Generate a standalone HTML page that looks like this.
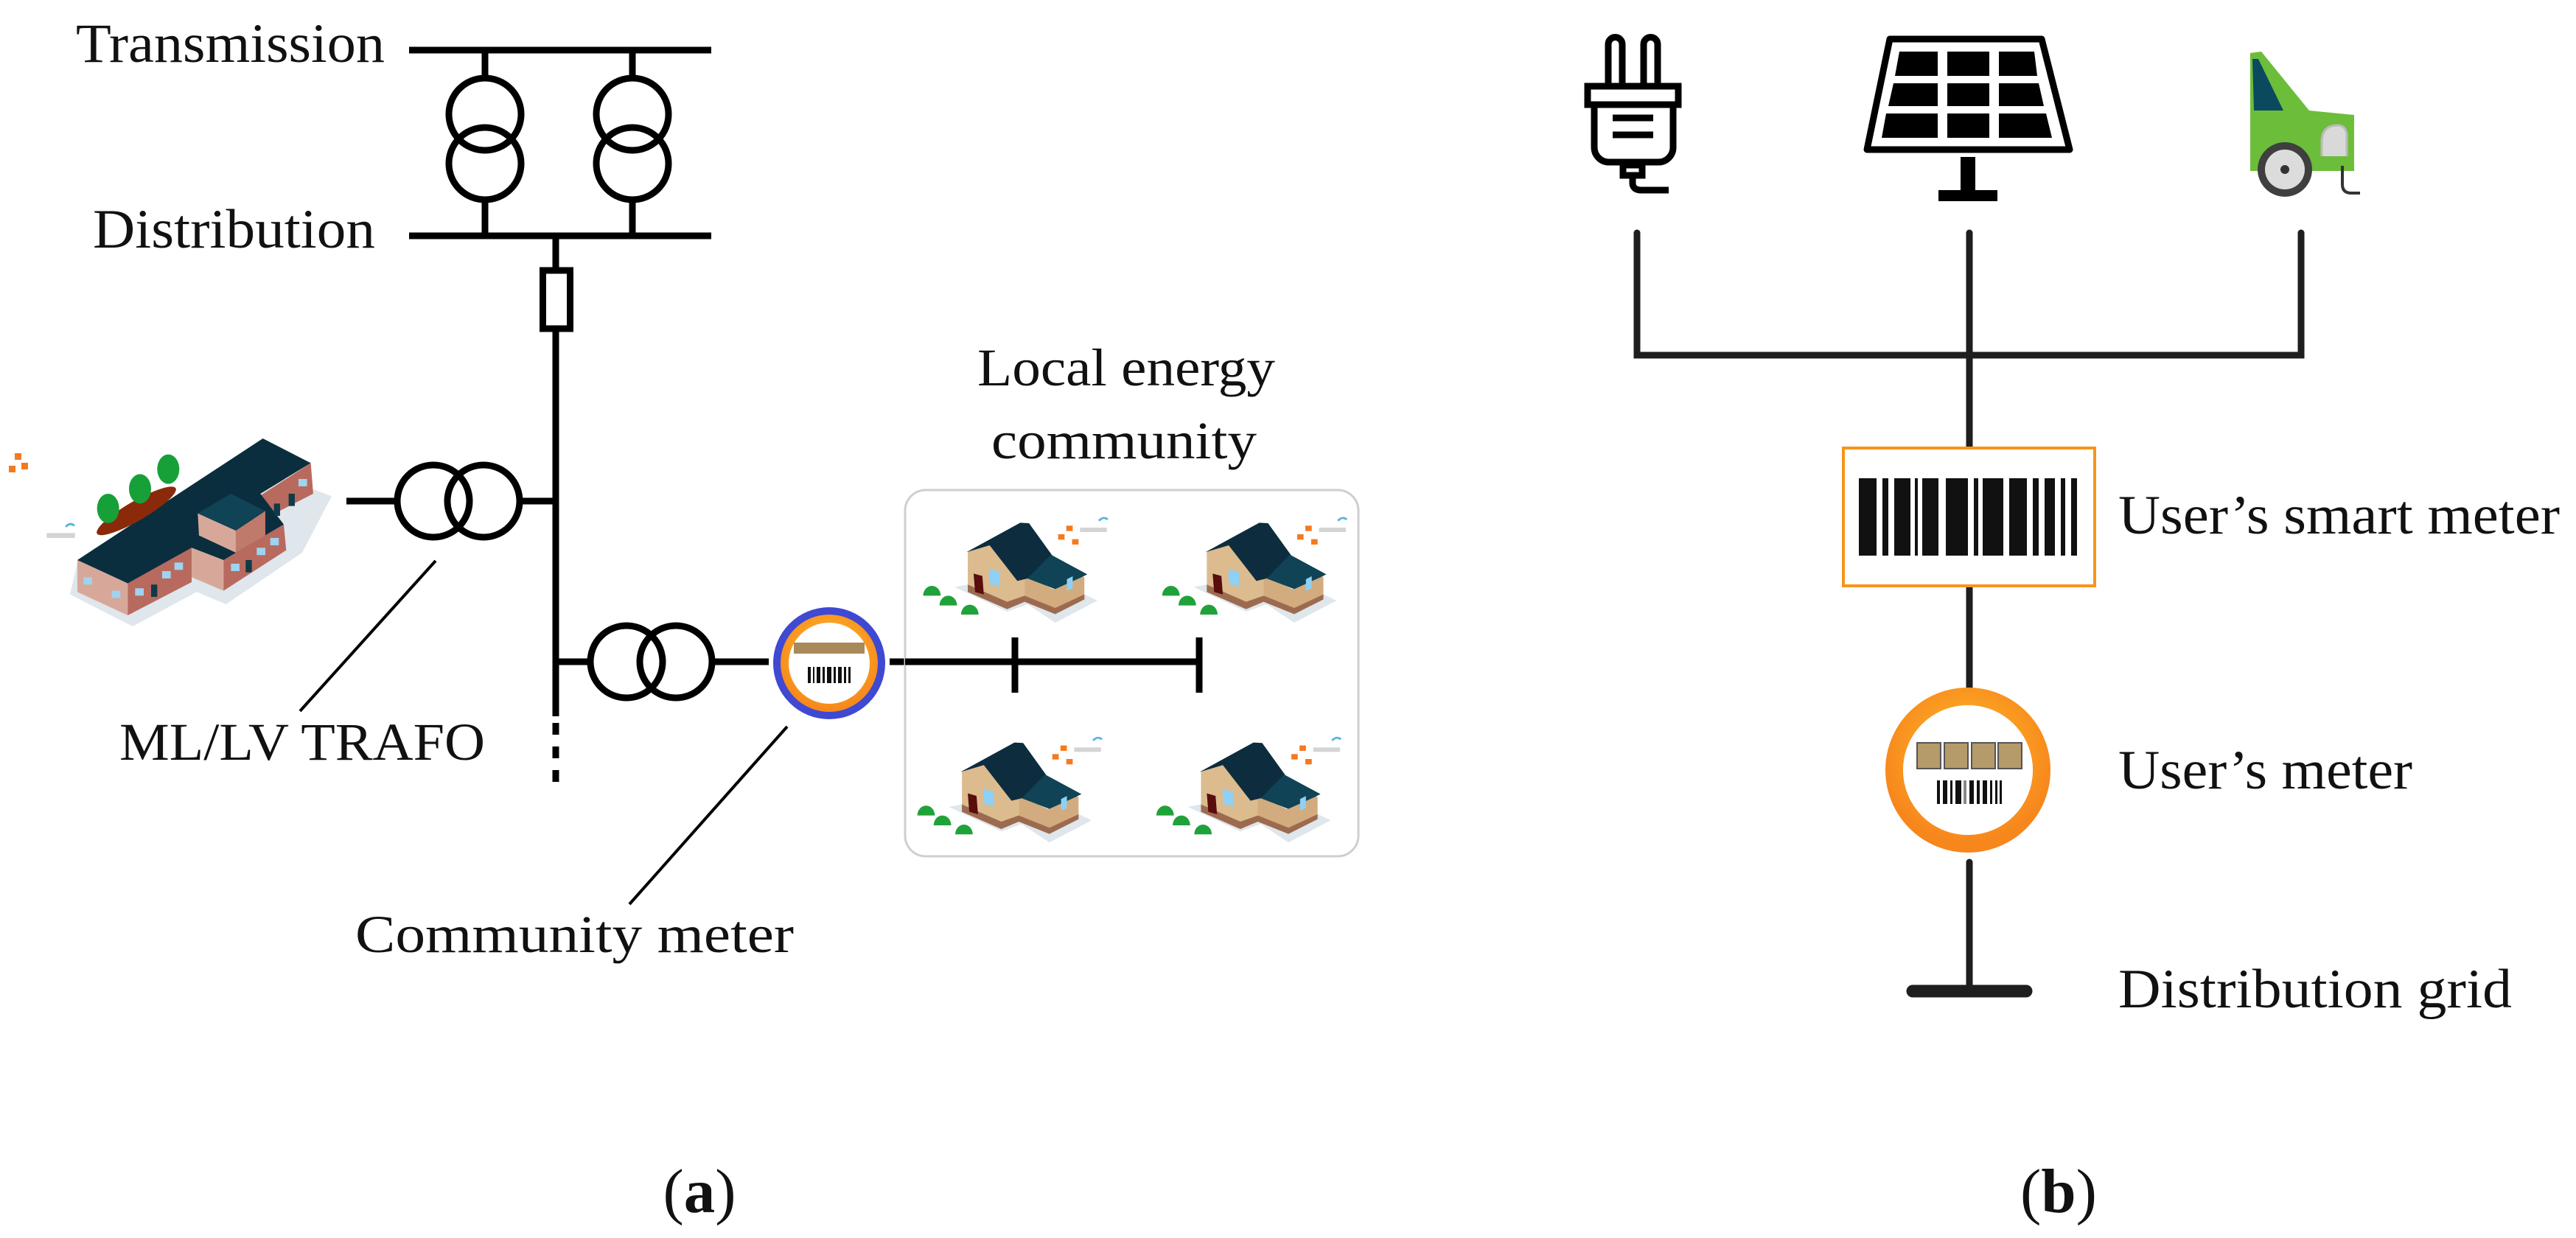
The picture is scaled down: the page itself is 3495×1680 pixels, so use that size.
<!DOCTYPE html>
<html><head><meta charset="utf-8"><style>
html,body{margin:0;padding:0;background:#fff;}
svg{display:block;}
text{font-family:"Liberation Serif",serif;fill:#111;}
</style></head><body>
<svg width="3495" height="1680" viewBox="0 0 3495 1680" xmlns="http://www.w3.org/2000/svg">
<defs>
<radialGradient id="og" cx="50%" cy="40%" r="60%">
<stop offset="0" stop-color="#ffc02a"/><stop offset="1" stop-color="#f7861c"/>
</radialGradient>
<g id="house">
 <polygon points="170,410 350,510 420,480 515,555 660,465 450,345" fill="#dfe6ec"/>
 <polygon points="215,265 290,235 410,360 410,470 350,500 215,430" fill="#dcbb8f"/>
 <polygon points="410,360 510,420 560,340 615,370 615,460 515,520 410,470" fill="#d2ac7e"/>
 <polygon points="215,400 350,470 410,445 515,495 615,440 615,460 515,520 410,470 350,500 215,430" fill="#9c6b4f"/>
 <polygon points="210,268 395,148 425,150 510,290 420,375 385,385 290,240" fill="#0d2d3e"/>
 <polygon points="420,375 500,278 625,358 605,370 515,418" fill="#0f4355"/>
 <polygon points="235,355 265,365 270,440 240,430" fill="#5a0d0d"/>
 <polygon points="290,335 325,350 325,410 290,395" fill="#8fd0f5"/>
 <polygon points="555,378 575,366 575,415 555,425" fill="#8fd0f5"/>
 <path d="M62,445 a30,40 0 0 1 60,0 z M118,485 a30,40 0 0 1 60,0 z M192,522 a30,40 0 0 1 60,0 z" fill="#1fa23a"/>
 <rect x="553" y="160" width="22" height="22" fill="#f47a20"/>
 <rect x="525" y="195" width="22" height="22" fill="#f47a20"/>
 <rect x="573" y="215" width="22" height="22" fill="#f47a20"/>
 <rect x="600" y="168" width="92" height="18" fill="#d4d4d4"/>
 <path d="M665,140 q15,-20 30,-5" stroke="#5ab4e0" stroke-width="8" fill="none"/>
</g>
</defs>

<!-- LEFT PANEL -->
<text x="103" y="84" font-size="75" textLength="419" lengthAdjust="spacingAndGlyphs">Transmission</text>
<text x="126" y="336" font-size="75" textLength="383" lengthAdjust="spacingAndGlyphs">Distribution</text>
<g stroke="#000" stroke-width="9" fill="none">
 <line x1="555" y1="68" x2="965" y2="68"/>
 <line x1="555" y1="320" x2="965" y2="320"/>
 <line x1="658" y1="68" x2="658" y2="106"/><line x1="658" y1="271" x2="658" y2="320"/>
 <line x1="858" y1="68" x2="858" y2="106"/><line x1="858" y1="271" x2="858" y2="320"/>
 <circle cx="658" cy="155" r="49"/><circle cx="658" cy="222" r="49"/>
 <circle cx="858" cy="155" r="49"/><circle cx="858" cy="222" r="49"/>
 <line x1="754" y1="320" x2="754" y2="367"/>
 <rect x="736.5" y="367" width="37" height="79"/>
 <line x1="754" y1="446" x2="754" y2="972"/>
 <line x1="754" y1="981" x2="754" y2="1072" stroke-dasharray="16,16"/>
 <line x1="470" y1="680" x2="539" y2="680"/>
 <circle cx="588" cy="680" r="49"/><circle cx="656" cy="680" r="49"/>
 <line x1="705" y1="680" x2="754" y2="680"/>
 <line x1="754" y1="898" x2="801" y2="898"/>
 <circle cx="850" cy="898" r="49"/><circle cx="917" cy="898" r="49"/>
 <line x1="966" y1="898" x2="1043" y2="898"/>
 <line x1="1207" y1="898" x2="1627" y2="898"/>
 <line x1="1377" y1="865" x2="1377" y2="940"/>
 <line x1="1627" y1="865" x2="1627" y2="940"/>
</g>
<g stroke="#000" stroke-width="4">
 <line x1="591" y1="761" x2="407" y2="965"/>
 <line x1="1068" y1="986" x2="854" y2="1227"/>
</g>
<!-- community meter -->
<circle cx="1125" cy="900" r="76" fill="#3f49d2"/>
<circle cx="1125" cy="900" r="66" fill="url(#og)"/>
<circle cx="1125" cy="900" r="55" fill="#fff"/>
<rect x="1077" y="872" width="96" height="15" fill="#a88a5a"/>
<g fill="#111"><rect x="1096" y="905" width="4" height="22"/><rect x="1103" y="905" width="2" height="22"/><rect x="1108" y="905" width="5" height="22"/><rect x="1116" y="905" width="3" height="22"/><rect x="1122" y="905" width="6" height="22"/><rect x="1131" y="905" width="3" height="22"/><rect x="1137" y="905" width="5" height="22"/><rect x="1145" y="905" width="3" height="22"/><rect x="1151" y="905" width="3" height="22"/></g>

<text x="162" y="1031" font-size="72" textLength="496" lengthAdjust="spacingAndGlyphs">ML/LV TRAFO</text>
<text x="482" y="1292" font-size="72" textLength="595" lengthAdjust="spacingAndGlyphs">Community meter</text>
<text x="1326" y="523" font-size="72" textLength="404" lengthAdjust="spacingAndGlyphs">Local energy</text>
<text x="1345" y="622" font-size="72" textLength="360" lengthAdjust="spacingAndGlyphs">community</text>

<rect x="1228" y="665" width="615" height="497" rx="28" fill="none" stroke="#cfcfcf" stroke-width="3"/>
<g transform="translate(1228,660) scale(0.3955,0.3333)">
 <use href="#house"/>
 <use href="#house" transform="translate(820,0)"/>
 <use href="#house" transform="translate(-20,895)"/>
 <use href="#house" transform="translate(800,895)"/>
</g>
<!-- re-draw line over box -->
<g stroke="#000" stroke-width="9">
 <line x1="1228" y1="898" x2="1627" y2="898"/>
 <line x1="1377" y1="865" x2="1377" y2="940"/>
 <line x1="1627" y1="865" x2="1627" y2="940"/>
</g>

<!-- building -->
<g transform="translate(60,530) scale(0.3333)">
 <polygon points="105,830 360,960 620,820 740,870 1050,660 1170,430 900,330 135,700" fill="#dfe6ec"/>
 <polygon points="135,690 340,785 340,915 135,820" fill="#d7a89a"/>
 <polygon points="340,785 600,640 600,780 340,915" fill="#b86a5e"/>
 <polygon points="860,440 1085,295 1095,420 900,520" fill="#b86a5e"/>
 <polygon points="600,640 730,690 730,815 600,760" fill="#d7a89a"/>
 <polygon points="730,690 975,545 985,650 730,815" fill="#b86a5e"/>
 <polygon points="135,690 890,195 1085,295 880,420 975,545 730,690 600,640 340,785" fill="#0a2e3e"/>
 <polygon points="625,500 780,570 780,660 630,590" fill="#d7a89a"/>
 <polygon points="780,570 900,490 900,590 780,660" fill="#c07a6c"/>
 <polygon points="625,500 760,420 900,490 780,570" fill="#0f4355"/>
 <g fill="#9fd3ef">
  <rect x="160" y="760" width="35" height="30"/><rect x="275" y="815" width="35" height="30"/>
  <rect x="370" y="805" width="35" height="30"/><rect x="480" y="735" width="35" height="30"/><rect x="530" y="700" width="35" height="30"/>
  <rect x="760" y="705" width="35" height="30"/><rect x="865" y="640" width="35" height="30"/><rect x="920" y="600" width="35" height="30"/>
  <rect x="1035" y="360" width="35" height="30"/>
 </g>
 <g fill="#0f3a48"><rect x="435" y="790" width="25" height="50"/><rect x="820" y="690" width="25" height="50"/><rect x="995" y="420" width="25" height="50"/><rect x="935" y="460" width="25" height="50"/></g>
 <ellipse cx="375" cy="490" rx="185" ry="40" transform="rotate(-30 375 490)" fill="#8a2a0a"/>
 <g fill="#17a038"><ellipse cx="260" cy="480" rx="45" ry="60"/><ellipse cx="390" cy="400" rx="45" ry="60"/><ellipse cx="505" cy="320" rx="45" ry="60"/></g>
 <rect x="10" y="580" width="115" height="20" fill="#d4d4d4"/>
 <path d="M88,555 q15,-20 35,-5" stroke="#5ab4e0" stroke-width="9" fill="none"/>
</g>
<g fill="#f47a20"><rect x="20" y="615" width="9" height="9"/><rect x="29" y="628" width="9" height="9"/><rect x="12" y="632" width="9" height="9"/></g>

<text x="949" y="1645" font-size="85" text-anchor="middle">(<tspan font-weight="bold">a</tspan>)</text>

<!-- RIGHT PANEL -->
<!-- plug -->
<g stroke="#000" stroke-width="9" fill="none">
 <path d="M2182,113 V60 a9,9 0 0 1 19,0 V113"/>
 <path d="M2230,113 V60 a9,9 0 0 1 19,0 V113"/>
 <rect x="2154" y="117" width="123" height="25" fill="none"/>
 <path d="M2163,142 V200 a20,20 0 0 0 20,20 H2250 a20,20 0 0 0 20,-20 V142"/>
 <rect x="2202" y="224" width="26" height="14"/>
 <path d="M2215,240 V248 q0,10 12,10 H2264"/>
 <line x1="2188" y1="160" x2="2243" y2="160"/>
 <line x1="2188" y1="183" x2="2243" y2="183"/>
</g>
<!-- solar -->
<polygon points="2564,53 2770,53 2808,203 2533,203" fill="none" stroke="#000" stroke-width="9" stroke-linejoin="round"/>
<g fill="#000">
 <polygon points="2577,70 2629,70 2629,103 2571,103"/><polygon points="2642,70 2699,70 2699,103 2642,103"/><polygon points="2712,70 2760,70 2764,103 2712,103"/>
 <polygon points="2569,113 2629,113 2629,144 2562,144"/><polygon points="2642,113 2699,113 2699,144 2642,144"/><polygon points="2712,113 2766,113 2773,144 2712,144"/>
 <polygon points="2559,154 2629,154 2629,187 2553,187"/><polygon points="2642,154 2699,154 2699,187 2642,187"/><polygon points="2712,154 2776,154 2784,187 2712,187"/>
 <rect x="2660" y="213" width="20" height="50"/>
 <rect x="2630" y="258" width="80" height="15"/>
</g>
<!-- car -->
<polygon points="3053,72 3068,70 3133,150 3194,156 3194,232 3053,232" fill="#6cbd3a"/>
<polygon points="3056,80 3064,80 3098,150 3058,150" fill="#0b4a5e"/>
<path d="M3150,212 v-20 q0,-22 22,-22 q10,0 12,12 v30" fill="#d9d9d9" stroke="#bbb" stroke-width="3"/>
<path d="M3178,225 v25 q0,12 12,12 h12" stroke="#333" stroke-width="4" fill="none"/>
<circle cx="3100" cy="230" r="37" fill="#3f3f3f"/>
<circle cx="3100" cy="230" r="27" fill="#dcdcdc"/>
<circle cx="3100" cy="230" r="6" fill="#333"/>

<g stroke="#1e1e1e" stroke-width="9" fill="none" stroke-linecap="round">
 <path d="M2221,316 V482 H3122 V316"/>
 <line x1="2672" y1="316" x2="2672" y2="606"/>
 <line x1="2672" y1="797" x2="2672" y2="936"/>
 <line x1="2672" y1="1170" x2="2672" y2="1345"/>
</g>
<line x1="2595" y1="1345" x2="2749" y2="1345" stroke="#1e1e1e" stroke-width="17" stroke-linecap="round"/>

<rect x="2501" y="608" width="341" height="187" fill="#fff" stroke="#f7941d" stroke-width="4"/>
<g fill="#111">
 <rect x="2522" y="649" width="24" height="105"/><rect x="2554" y="649" width="8" height="105"/>
 <rect x="2570" y="649" width="22" height="105"/><rect x="2598" y="649" width="4" height="105"/>
 <rect x="2608" y="649" width="22" height="105"/><rect x="2640" y="649" width="30" height="105"/>
 <rect x="2678" y="649" width="6" height="105"/><rect x="2690" y="649" width="28" height="105"/>
 <rect x="2726" y="649" width="24" height="105"/><rect x="2758" y="649" width="8" height="105"/>
 <rect x="2774" y="649" width="14" height="105"/><rect x="2796" y="649" width="6" height="105"/>
 <rect x="2810" y="649" width="8" height="105"/>
</g>

<circle cx="2670" cy="1045" r="100" fill="none" stroke="url(#og)" stroke-width="24"/>
<circle cx="2670" cy="1045" r="88" fill="#fff"/>
<g fill="#b59a6a" stroke="#555" stroke-width="2">
 <rect x="2601" y="1008" width="32" height="35"/><rect x="2638" y="1008" width="32" height="35"/>
 <rect x="2675" y="1008" width="32" height="35"/><rect x="2711" y="1008" width="32" height="35"/>
</g>
<g fill="#111">
 <rect x="2628" y="1059" width="4" height="32"/><rect x="2636" y="1059" width="6" height="32"/><rect x="2646" y="1059" width="3" height="32"/>
 <rect x="2653" y="1059" width="8" height="32"/><rect x="2664" y="1059" width="4" height="32" fill="#888"/><rect x="2672" y="1059" width="6" height="32"/>
 <rect x="2682" y="1059" width="4" height="32"/><rect x="2690" y="1059" width="6" height="32"/><rect x="2700" y="1059" width="3" height="32"/>
 <rect x="2707" y="1059" width="3" height="32"/><rect x="2713" y="1059" width="3" height="32"/>
</g>

<text x="2874" y="724" font-size="75" textLength="599" lengthAdjust="spacingAndGlyphs">User’s smart meter</text>
<text x="2874" y="1070" font-size="75" textLength="399" lengthAdjust="spacingAndGlyphs">User’s meter</text>
<text x="2874" y="1367" font-size="75" textLength="534" lengthAdjust="spacingAndGlyphs">Distribution grid</text>

<text x="2793" y="1645" font-size="85" text-anchor="middle">(<tspan font-weight="bold">b</tspan>)</text>
</svg>
</body></html>
